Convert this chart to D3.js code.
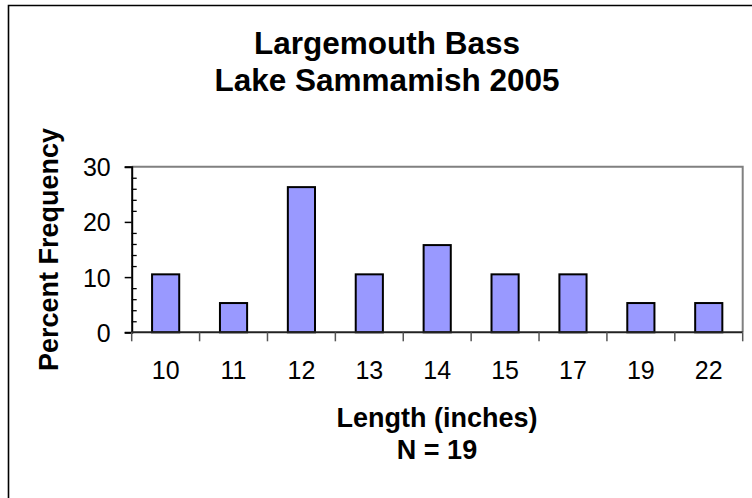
<!DOCTYPE html>
<html>
<head>
<meta charset="utf-8">
<script src="https://cdn.jsdelivr.net/npm/d3@7"></script>
<style>
  html, body { margin: 0; padding: 0; background: #fff; }
  svg { display: block; }
  text { font-family: "Liberation Sans", Arial, sans-serif; fill: #000; }
</style>
</head>
<body>
<script>
const categories = ["10", "11", "12", "13", "14", "15", "17", "19", "22"];
const percentFrequency = [10.5, 5.3, 26.3, 10.5, 15.8, 10.5, 10.5, 5.3, 5.3];
const yTickValues = [0, 10, 20, 30];
const yMinorTickValues = [2, 4, 6, 8, 12, 14, 16, 18, 22, 24, 26, 28];
const titleLines = ["Largemouth Bass", "Lake Sammamish 2005"];
const xTitleLines = ["Length (inches)", "N = 19"];
const yTitle = "Percent Frequency";

const W = 752, H = 498;
const plot = { left: 131.7, top: 166.7, right: 742.7, bottom: 332.3 };

const svg = d3.select("body").append("svg").attr("width", W).attr("height", H);

// outer border (left + top only visible)
svg.append("path")
  .attr("d", `M8.5,${H} L8.5,5.5 L${W},5.5`)
  .attr("fill", "none").attr("stroke", "#000").attr("stroke-width", 1.6);

const x = d3.scaleBand().domain(categories).range([plot.left, plot.right]).paddingInner(0.6).paddingOuter(0.3);
const xEdges = d3.scaleLinear().domain([0, categories.length]).range([plot.left, plot.right]);
const y = d3.scaleLinear().domain([0, 30]).range([plot.bottom, plot.top]);

// plot frame top/right in grey
svg.append("path")
  .attr("d", `M${plot.left},${plot.top} L${plot.right},${plot.top} L${plot.right},${plot.bottom}`)
  .attr("fill", "none").attr("stroke", "#808080").attr("stroke-width", 2);

// bars
svg.append("g").selectAll("rect").data(categories).join("rect")
  .attr("x", d => x(d))
  .attr("width", x.bandwidth())
  .attr("y", (d, i) => y(percentFrequency[i]))
  .attr("height", (d, i) => y(0) - y(percentFrequency[i]))
  .attr("fill", "#9999FF").attr("stroke", "#000").attr("stroke-width", 2);

// y axis major ticks (outward)
const yAxis = d3.axisLeft(y).tickValues(yTickValues).tickSize(7).tickPadding(14).tickFormat(d3.format("d"));
const gy = svg.append("g").attr("transform", `translate(${plot.left},0)`).call(yAxis);
gy.select(".domain").attr("stroke", "#000").attr("stroke-width", 2);
gy.selectAll(".tick line").attr("stroke", "#000").attr("stroke-width", 1.5);
gy.selectAll(".tick text").style("font-size", "25px").attr("dy", "0.36em");

// y minor ticks (inward)
const yMinor = d3.axisRight(y).tickValues(yMinorTickValues).tickSize(5).tickFormat("");
const gym = svg.append("g").attr("transform", `translate(${plot.left},0)`).call(yMinor);
gym.select(".domain").remove();
gym.selectAll(".tick line").attr("stroke", "#000").attr("stroke-width", 1.3);

// x axis
const gx = svg.append("g").attr("transform", `translate(0,${plot.bottom})`);
gx.append("line").attr("x1", plot.left).attr("x2", plot.right).attr("y1", 0).attr("y2", 0)
  .attr("stroke", "#222").attr("stroke-width", 2);
gx.selectAll("line.edge").data(d3.range(categories.length + 1)).join("line")
  .attr("class", "edge")
  .attr("x1", i => xEdges(i)).attr("x2", i => xEdges(i))
  .attr("y1", 0).attr("y2", 9)
  .attr("stroke", "#555").attr("stroke-width", 1.5);
gx.selectAll("text").data(categories).join("text")
  .attr("x", d => x(d) + x.bandwidth() / 2)
  .attr("y", 47)
  .attr("text-anchor", "middle")
  .style("font-size", "25px")
  .text(d => d);

// title
svg.append("g").selectAll("text").data(titleLines).join("text")
  .attr("x", 387).attr("y", (d, i) => 54 + i * 37)
  .attr("text-anchor", "middle")
  .style("font-size", "31.5px").style("font-weight", "bold")
  .text(d => d);

// x axis title
svg.append("g").selectAll("text").data(xTitleLines).join("text")
  .attr("x", 437).attr("y", (d, i) => 427 + i * 32)
  .attr("text-anchor", "middle")
  .style("font-size", "27px").style("font-weight", "bold")
  .text(d => d);

// y axis title
svg.append("text")
  .attr("transform", `translate(58,${(plot.top + plot.bottom) / 2}) rotate(-90)`)
  .attr("text-anchor", "middle")
  .style("font-size", "27px").style("font-weight", "bold")
  .text(yTitle);
</script>
</body>
</html>
